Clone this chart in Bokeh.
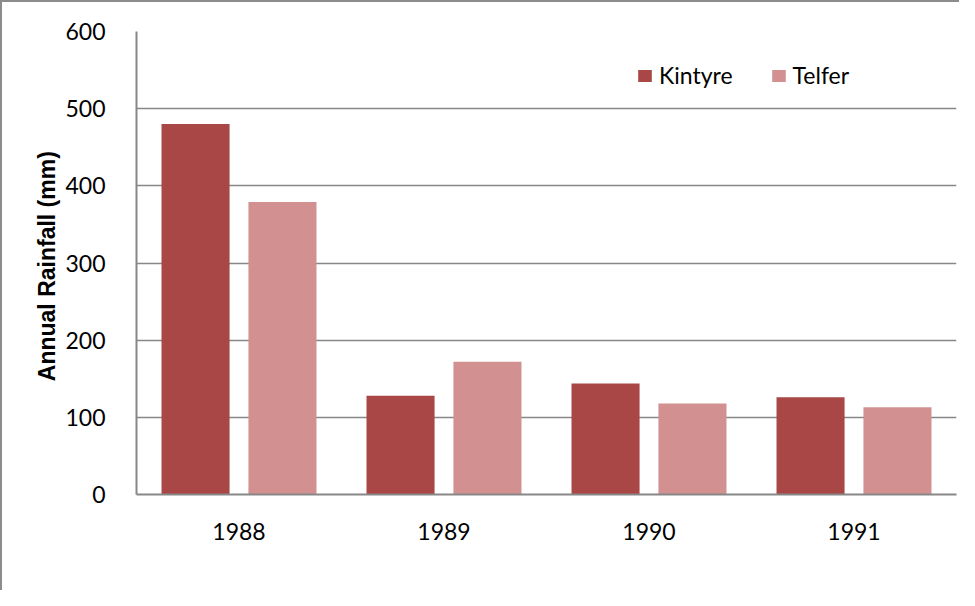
from bokeh.plotting import figure
from bokeh.models import FactorRange, ColumnDataSource, Legend, LegendItem
from bokeh.transform import dodge
from bokeh.embed import file_html
from bokeh.resources import INLINE

years = ["1988", "1989", "1990", "1991"]
kintyre = [480, 128, 144, 126]
telfer = [379, 172, 118, 113]
y_ticks = [0, 100, 200, 300, 400, 500, 600]

src = ColumnDataSource(dict(year=years, kintyre=kintyre, telfer=telfer))

p = figure(x_range=FactorRange(*years, range_padding=0), y_range=(0, 600),
           width=959, height=590, output_backend="svg", toolbar_location=None,
           min_border_left=134, min_border_top=29, min_border_right=5, min_border_bottom=98)
p.styles = {"border-top": "2px solid #8c8c8c", "border-left": "2px solid #8c8c8c"}

r1 = p.vbar(x=dodge("year", -0.212, range=p.x_range), top="kintyre", width=0.332,
            source=src, fill_color="#A84745", line_color=None)
r2 = p.vbar(x=dodge("year", 0.212, range=p.x_range), top="telfer", width=0.332,
            source=src, fill_color="#D29190", line_color=None)

p.outline_line_color = None
p.xgrid.grid_line_color = None
p.ygrid.grid_line_color = "#878787"
p.ygrid.grid_line_width = 1.5
p.yaxis.ticker = y_ticks

for ax in (p.xaxis[0], p.yaxis[0]):
    ax.axis_line_color = "#878787"
    ax.axis_line_width = 2
    ax.major_tick_line_color = None
    ax.minor_tick_line_color = None
    ax.major_label_text_font = "Lato"
    ax.major_label_text_font_size = "23px"
    ax.major_label_text_color = "#000000"

p.yaxis.major_label_standoff = 25
p.xaxis.major_label_standoff = 22
p.yaxis.axis_label = "Annual Rainfall  (mm)"
p.yaxis.axis_label_text_font = "Liberation Sans"
p.yaxis.axis_label_text_font_style = "bold"
p.yaxis.axis_label_text_font_size = "23px"
p.yaxis.axis_label_text_color = "#000000"
p.yaxis.axis_label_standoff = 2

legend = Legend(items=[LegendItem(label="Kintyre", renderers=[r1]),
                       LegendItem(label="Telfer", renderers=[r2])],
                orientation="horizontal", location=(500, 405))
legend.border_line_color = None
legend.background_fill_alpha = 0
legend.padding = 0
legend.margin = 0
legend.spacing = 37
legend.label_standoff = 6
legend.glyph_width = 17
legend.glyph_height = 15
legend.label_text_font = "Lato"
legend.label_text_font_size = "23px"
legend.label_text_color = "#000000"
p.add_layout(legend)

open("out.html", "w").write(file_html(p, INLINE))
